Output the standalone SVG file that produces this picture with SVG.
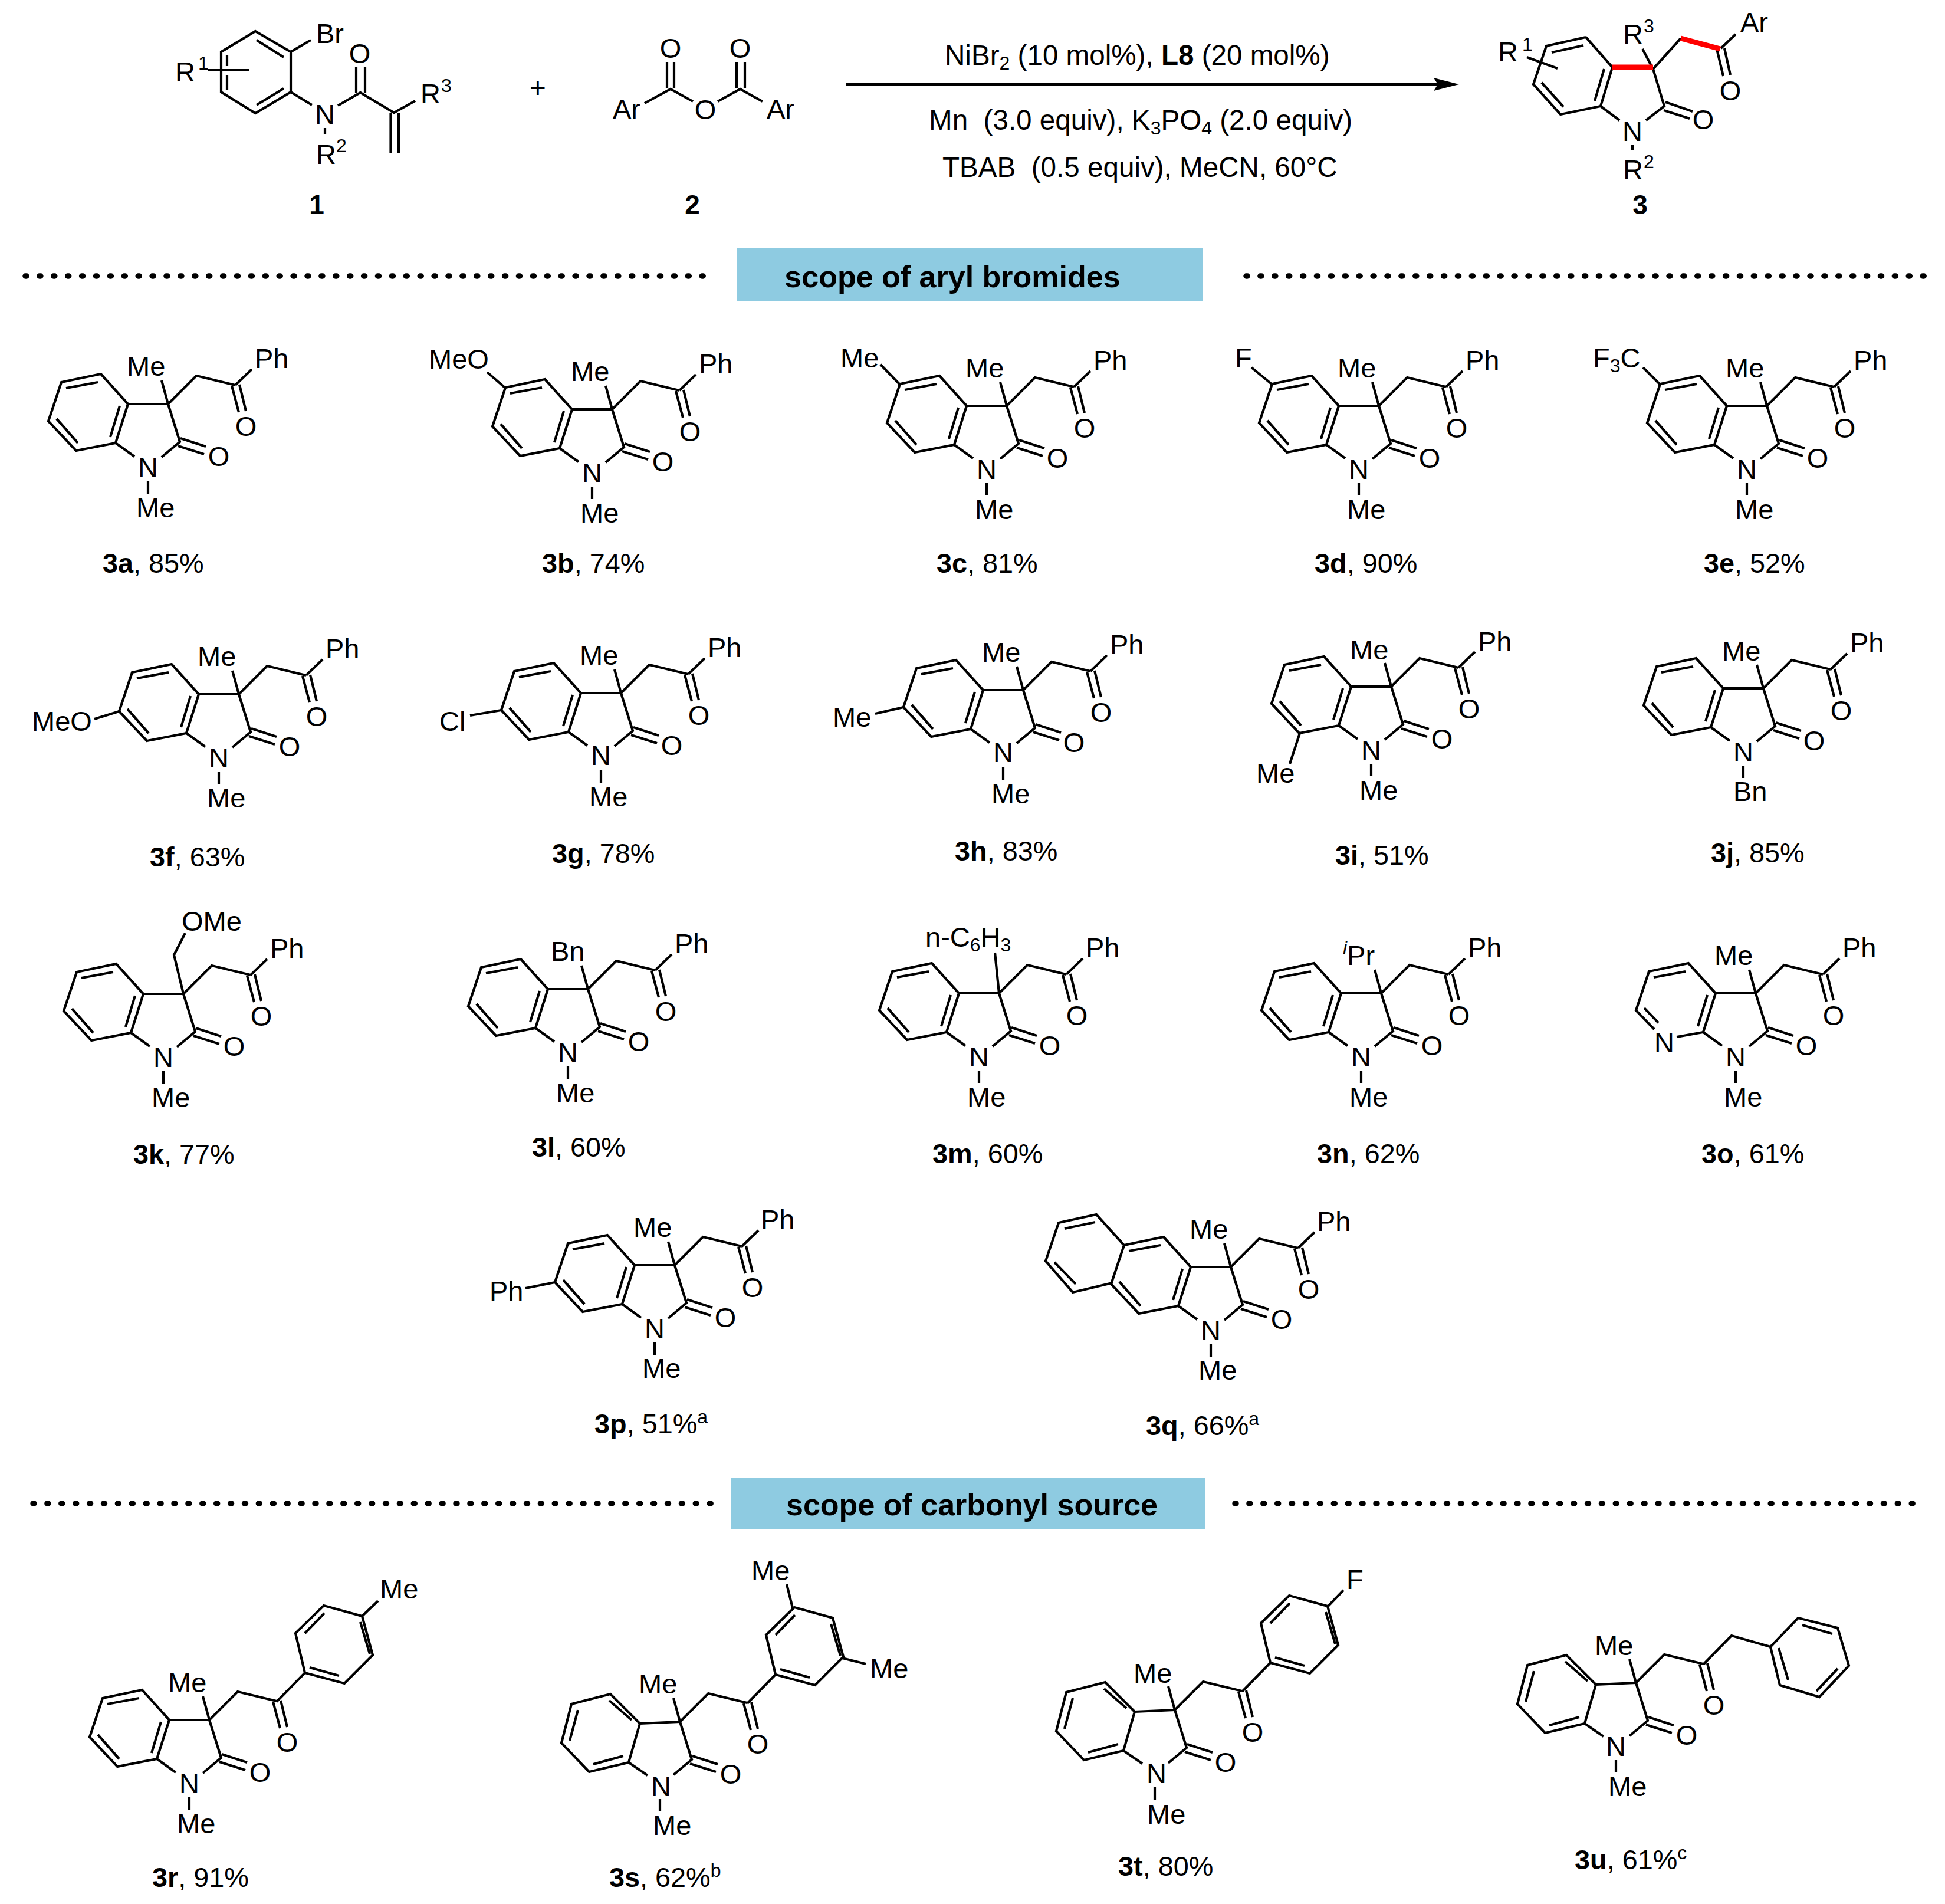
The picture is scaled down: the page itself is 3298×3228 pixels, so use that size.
<svg xmlns="http://www.w3.org/2000/svg" xmlns:xlink="http://www.w3.org/1999/xlink" width="3298" height="3228" viewBox="0 0 3298 3228">
<style>
text{font-family:"Liberation Sans",Arial,sans-serif;fill:#000;white-space:pre}
.a{font-size:47px;transform:translate(-3px,0)}
.m{font-size:47px;text-anchor:middle}
.l{font-size:46.800px}
.c{font-size:46px;text-anchor:middle;font-weight:bold}
.r{font-size:47.600px}
.h{font-size:52px;font-weight:bold;text-anchor:middle}
.bd{font-weight:bold}
.sp{font-size:32px}
.bond{fill:none;stroke:#000;stroke-width:4.2;stroke-linejoin:miter}
.red{fill:none;stroke:#f00;stroke-width:9}
.dots{fill:none;stroke:#000;stroke-width:9.500;stroke-linecap:round;stroke-dasharray:2 21.9}
.band{fill:#8ecbe1}
</style>
<defs>
<path id="benzoA" class="bond" d="M-68 0L-114-51L-181-37L-203 29L-156 79L-89 66L-68 0M-173-27L-119-37M-189 25L-153 66M-82 3L-98 56M-68 0L0 0M-89 66L-57 89"/>
<path id="benzoC" class="bond" d="M-68 3L-118-47L-184-30L-201 36L-154 85L-87 69L-68 3M-82-3L-120-36M-187 32L-173-20M-96 58L-147 72M-68 3L0 0M-87 69L-55 91"/>
<path id="lactam" class="bond" d="M0 0L20 64L-11 90M21 58L64 72M17 71L61 85M-34 131V152M0 0L48-48L114-32M108-31L120 14M121-33L132 12"/>
<path id="stub" class="bond" d="M-11-40L0 0"/>
<path id="toPh" class="bond" d="M114-32L142-59"/>
<path id="aryl" class="bond" d="M114-31L162-80L229-62L277-110L259-176L194-194L146-147L162-80M170-89L220-75M256-166L272-112M162-147L195-181"/>
</defs>

<g id="separators">
<line class="dots" x1="43" y1="468" x2="1198" y2="468"/>
<line class="dots" x1="2113" y1="468" x2="3264" y2="468"/>
<line class="dots" x1="56" y1="2549" x2="1215" y2="2549"/>
<line class="dots" x1="2094" y1="2549" x2="3255" y2="2549"/>
</g>
<g id="header1"><rect class="band" x="1249" y="421" width="791" height="90"/><text class="h" x="1615" y="487">scope of aryl bromides</text></g>
<g id="header2"><rect class="band" x="1239" y="2505" width="805" height="88"/><text class="h" x="1648" y="2569">scope of carbonyl source</text></g>

<g id="reactant1">
<path class="bond" d="M433 53L493 88V156L433 192L375 156V88ZM435 68L481 97M385 93V112M385 127V152M435 178L481 150M493 88L527 68M352 119H422M493 156L529 178M551 217V228M573 179L611 157L668 191L704 171M604 113V157M619 113V157M662.500 191V260M676 191V260"/>
<text class="a" x="539" y="73">Br</text>
<text class="a" x="300" y="138">R</text><text class="sp" x="336" y="118">1</text>
<text class="m" x="551" y="210">N</text>
<text class="a" x="539" y="278">R</text><text class="sp" x="570" y="258">2</text>
<text class="m" x="610" y="107">O</text>
<text class="a" x="716" y="175">R</text><text class="sp" x="748" y="156">3</text>
<text class="c" x="537" y="363">1</text>
</g>
<text id="plus" class="r" x="912" y="165" text-anchor="middle">+</text>
<g id="reactant2">
<path class="bond" d="M1093 175L1137 151L1175 172M1217 172L1255 151L1293 172M1131 105V150M1143 105V150M1249 105V150M1263 105V150"/>
<text class="a" x="1042" y="201">Ar</text>
<text class="m" x="1196" y="202">O</text>
<text class="a" x="1303" y="201">Ar</text>
<text class="m" x="1137" y="98">O</text>
<text class="m" x="1255" y="98">O</text>
<text class="c" x="1174" y="363">2</text>
</g>
<g id="conditions">
<line x1="1434" y1="143" x2="2440" y2="143" stroke="#000" stroke-width="4"/>
<polygon points="2431,132 2474,143 2431,154 2438,143" fill="#000"/>
<text class="r" x="1602" y="110">NiBr<tspan class="sp" dy="8">2</tspan><tspan dy="-8"> (10 mol%), </tspan><tspan class="bd">L8</tspan> (20 mol%)</text>
<text class="r" x="1575" y="220">Mn  (3.0 equiv), K<tspan class="sp" dy="8">3</tspan><tspan dy="-8">PO</tspan><tspan class="sp" dy="8">4</tspan><tspan dy="-8"> (2.0 equiv)</tspan></text>
<text class="r" x="1598" y="300">TBAB  (0.5 equiv), MeCN, 60°C</text>
</g>
<g id="product3">
<path class="bond" d="M2689 63L2622 78L2600 143L2646 194L2714 180L2734 114L2689 63M2631 89L2685 77M2614 140L2651 181M2720 117L2704 171M2589 97L2641 116M2785 83L2803 117L2822 180L2791 204M2714 180L2746 204M2824 173L2870 189M2821 187L2865 201M2768 246V254M2803 117L2850 65M2918 82L2943 58M2911 83L2922 129M2924 82L2934 127"/>
<path class="red" d="M2734 114H2803M2850 65L2917 83"/>
<text class="a" x="2543" y="104">R</text><text class="sp" x="2581" y="86">1</text>
<text class="a" x="2755" y="74">R</text><text class="sp" x="2787" y="55">3</text>
<text class="a" x="2954" y="54">Ar</text>
<text class="m" x="2934" y="170">O</text>
<text class="m" x="2768" y="239">N</text>
<text class="m" x="2888" y="219">O</text>
<text class="a" x="2755" y="304">R</text><text class="sp" x="2787" y="285">2</text>
<text class="c" x="2781" y="363">3</text>
</g>

<g id="c3a"><g transform="translate(285,685)"><use href="#benzoA"/><use href="#lactam"/><use href="#stub"/><use href="#toPh"/><text class="a" x="-67" y="-48">Me</text><text class="a" x="150" y="-61">Ph</text><text class="m" x="132" y="54">O</text><text class="m" x="86" y="105">O</text><text class="m" x="-34" y="124">N</text><text class="a" x="-51" y="192">Me</text></g><text class="l" x="174" y="971"><tspan class="bd">3a</tspan>, 85%</text></g>

<g id="c3b"><g transform="translate(1038,694)"><use href="#benzoA"/><use href="#lactam"/><use href="#stub"/><use href="#toPh"/><path class="bond" d="M-182-37L-212-63"/><text class="a" x="-308" y="-69">MeO</text><text class="a" x="-67" y="-48">Me</text><text class="a" x="150" y="-61">Ph</text><text class="m" x="132" y="54">O</text><text class="m" x="86" y="105">O</text><text class="m" x="-34" y="124">N</text><text class="a" x="-51" y="192">Me</text></g><text class="l" x="919" y="971"><tspan class="bd">3b</tspan>, 74%</text></g>

<g id="c3c"><g transform="translate(1707,688)"><use href="#benzoA"/><use href="#lactam"/><use href="#stub"/><use href="#toPh"/><path class="bond" d="M-182-37L-214-70"/><text class="a" x="-279" y="-65">Me</text><text class="a" x="-67" y="-48">Me</text><text class="a" x="150" y="-61">Ph</text><text class="m" x="132" y="54">O</text><text class="m" x="86" y="105">O</text><text class="m" x="-34" y="124">N</text><text class="a" x="-51" y="192">Me</text></g><text class="l" x="1588" y="971"><tspan class="bd">3c</tspan>, 81%</text></g>

<g id="c3d"><g transform="translate(2338,688)"><use href="#benzoA"/><use href="#lactam"/><use href="#stub"/><use href="#toPh"/><path class="bond" d="M-182-37L-216-65"/><text class="a" x="-241" y="-65">F</text><text class="a" x="-67" y="-48">Me</text><text class="a" x="150" y="-61">Ph</text><text class="m" x="132" y="54">O</text><text class="m" x="86" y="105">O</text><text class="m" x="-34" y="124">N</text><text class="a" x="-51" y="192">Me</text></g><text class="l" x="2229" y="971"><tspan class="bd">3d</tspan>, 90%</text></g>

<g id="c3e"><g transform="translate(2996,688)"><use href="#benzoA"/><use href="#lactam"/><use href="#stub"/><use href="#toPh"/><path class="bond" d="M-182-37L-210-65"/><text class="a" x="-292" y="-65">F<tspan class="sp" dy="8">3</tspan><tspan dy="-8">C</tspan></text><text class="a" x="-67" y="-48">Me</text><text class="a" x="150" y="-61">Ph</text><text class="m" x="132" y="54">O</text><text class="m" x="86" y="105">O</text><text class="m" x="-34" y="124">N</text><text class="a" x="-51" y="192">Me</text></g><text class="l" x="2889" y="971"><tspan class="bd">3e</tspan>, 52%</text></g>

<g id="c3f"><g transform="translate(405,1177)"><use href="#benzoA"/><use href="#lactam"/><use href="#stub"/><use href="#toPh"/><path class="bond" d="M-203 29L-245 42"/><text class="a" x="-348" y="62">MeO</text><text class="a" x="-67" y="-48">Me</text><text class="a" x="150" y="-61">Ph</text><text class="m" x="132" y="54">O</text><text class="m" x="86" y="105">O</text><text class="m" x="-34" y="124">N</text><text class="a" x="-51" y="192">Me</text></g><text class="l" x="254" y="1469"><tspan class="bd">3f</tspan>, 63%</text></g>

<g id="c3g"><g transform="translate(1053,1175)"><use href="#benzoA"/><use href="#lactam"/><use href="#stub"/><use href="#toPh"/><path class="bond" d="M-203 29L-256 38"/><text class="a" x="-305" y="64">Cl</text><text class="a" x="-67" y="-48">Me</text><text class="a" x="150" y="-61">Ph</text><text class="m" x="132" y="54">O</text><text class="m" x="86" y="105">O</text><text class="m" x="-34" y="122">N</text><text class="a" x="-51" y="192">Me</text></g><text class="l" x="936" y="1463"><tspan class="bd">3g</tspan>, 78%</text></g>

<g id="c3h"><g transform="translate(1735,1170)"><use href="#benzoA"/><use href="#lactam"/><use href="#stub"/><use href="#toPh"/><path class="bond" d="M-203 29L-251 40"/><text class="a" x="-320" y="62">Me</text><text class="a" x="-67" y="-48">Me</text><text class="a" x="150" y="-61">Ph</text><text class="m" x="132" y="54">O</text><text class="m" x="86" y="105">O</text><text class="m" x="-34" y="122">N</text><text class="a" x="-51" y="192">Me</text></g><text class="l" x="1619" y="1459"><tspan class="bd">3h</tspan>, 83%</text></g>

<g id="c3i"><g transform="translate(2359,1164)"><use href="#benzoA"/><use href="#lactam"/><use href="#stub"/><use href="#toPh"/><path class="bond" d="M-155 79L-172 131"/><text class="a" x="-226" y="163">Me</text><text class="a" x="-67" y="-46">Me</text><text class="a" x="150" y="-60">Ph</text><text class="m" x="132" y="54">O</text><text class="m" x="86" y="105">O</text><text class="m" x="-34" y="124">N</text><text class="a" x="-51" y="192">Me</text></g><text class="l" x="2264" y="1466"><tspan class="bd">3i</tspan>, 51%</text></g>

<g id="c3j"><g transform="translate(2990,1167)"><use href="#benzoA"/><use href="#lactam"/><use href="#stub"/><use href="#toPh"/><text class="a" x="-67" y="-47">Me</text><text class="a" x="150" y="-61">Ph</text><text class="m" x="132" y="54">O</text><text class="m" x="86" y="105">O</text><text class="m" x="-34" y="124">N</text><text class="a" x="-48" y="191">Bn</text></g><text class="l" x="2901" y="1462"><tspan class="bd">3j</tspan>, 85%</text></g>

<g id="c3k"><g transform="translate(311,1685)"><use href="#benzoA"/><use href="#lactam"/><use href="#toPh"/><path class="bond" d="M0 0L-16-66L3-103"/><text class="a" x="0" y="-107">OMe</text><text class="a" x="150" y="-61">Ph</text><text class="m" x="132" y="54">O</text><text class="m" x="86" y="105">O</text><text class="m" x="-34" y="124">N</text><text class="a" x="-51" y="192">Me</text></g><text class="l" x="226" y="1973"><tspan class="bd">3k</tspan>, 77%</text></g>

<g id="c3l"><g transform="translate(997,1677)"><use href="#benzoA"/><use href="#lactam"/><use href="#stub"/><use href="#toPh"/><text class="a" x="-60" y="-48">Bn</text><text class="a" x="150" y="-61">Ph</text><text class="m" x="132" y="54">O</text><text class="m" x="86" y="105">O</text><text class="m" x="-34" y="124">N</text><text class="a" x="-51" y="192">Me</text></g><text class="l" x="902" y="1961"><tspan class="bd">3l</tspan>, 60%</text></g>

<g id="c3m"><g transform="translate(1694,1684)"><use href="#benzoA"/><use href="#lactam"/><use href="#toPh"/><path class="bond" d="M-7-69L0 0"/><text class="a" x="-122" y="-79">n-C<tspan class="sp" dy="8">6</tspan><tspan dy="-8">H</tspan><tspan class="sp" dy="8">3</tspan></text><text class="a" x="150" y="-61">Ph</text><text class="m" x="132" y="54">O</text><text class="m" x="86" y="105">O</text><text class="m" x="-34" y="124">N</text><text class="a" x="-51" y="192">Me</text></g><text class="l" x="1581" y="1972"><tspan class="bd">3m</tspan>, 60%</text></g>

<g id="c3n"><g transform="translate(2342,1684)"><use href="#benzoA"/><use href="#lactam"/><use href="#stub"/><use href="#toPh"/><text class="a" x="-62" y="-48"><tspan class="sp" dy="-18" font-style="italic">i</tspan><tspan dy="18">Pr</tspan></text><text class="a" x="150" y="-61">Ph</text><text class="m" x="132" y="54">O</text><text class="m" x="86" y="105">O</text><text class="m" x="-34" y="124">N</text><text class="a" x="-51" y="192">Me</text></g><text class="l" x="2233" y="1972"><tspan class="bd">3n</tspan>, 62%</text></g>

<g id="c3o"><g transform="translate(2977,1684)"><path class="bond" d="M-68 0L-114-51L-181-37L-203 29L-172 61M-134 74L-89 66L-68 0M-173-27L-119-37M-189 25L-165 50M-82 3L-98 56M-68 0L0 0M-89 66L-57 89"/><use href="#lactam"/><use href="#stub"/><use href="#toPh"/><text class="m" x="-155" y="100">N</text><text class="a" x="-67" y="-48">Me</text><text class="a" x="150" y="-61">Ph</text><text class="m" x="132" y="54">O</text><text class="m" x="86" y="105">O</text><text class="m" x="-34" y="124">N</text><text class="a" x="-51" y="192">Me</text></g><text class="l" x="2885" y="1972"><tspan class="bd">3o</tspan>, 61%</text></g>

<g id="c3p"><g transform="translate(1144,2145)"><use href="#benzoA"/><use href="#lactam"/><use href="#stub"/><use href="#toPh"/><path class="bond" d="M-203 29L-253 39"/><text class="a" x="-311" y="60">Ph</text><text class="a" x="-67" y="-48">Me</text><text class="a" x="149" y="-61">Ph</text><text class="m" x="132" y="54">O</text><text class="m" x="86" y="105">O</text><text class="m" x="-34" y="124">N</text><text class="a" x="-52" y="191">Me</text></g><text class="l" x="1008" y="2430"><tspan class="bd">3p</tspan>, 51%<tspan class="sp" dy="-17">a</tspan></text></g>

<g id="c3q"><g transform="translate(2087,2148)"><use href="#benzoA"/><use href="#lactam"/><use href="#stub"/><use href="#toPh"/><path class="bond" d="M-182-38L-228-89L-292-75L-314-10L-268 43L-201 27M-282-65L-230-76M-299-8L-263 29"/><text class="a" x="-67" y="-48">Me</text><text class="a" x="149" y="-61">Ph</text><text class="m" x="132" y="54">O</text><text class="m" x="86" y="105">O</text><text class="m" x="-34" y="124">N</text><text class="a" x="-52" y="191">Me</text></g><text class="l" x="1943" y="2433"><tspan class="bd">3q</tspan>, 66%<tspan class="sp" dy="-17">a</tspan></text></g>

<g id="c3r"><g transform="translate(355,2916)"><use href="#benzoA"/><use href="#lactam"/><use href="#stub"/><use href="#aryl"/><path class="bond" d="M259-176L286-202"/><text class="a" x="292" y="-206">Me</text><text class="a" x="-67" y="-47">Me</text><text class="m" x="132" y="54">O</text><text class="m" x="86" y="105">O</text><text class="m" x="-34" y="124">N</text><text class="a" x="-52" y="192">Me</text></g><text class="l" x="258" y="3199"><tspan class="bd">3r</tspan>, 91%</text></g>

<g id="c3s"><g transform="translate(1153,2919)"><use href="#benzoC"/><use href="#lactam"/><use href="#stub"/><use href="#aryl"/><path class="bond" d="M191-193L181-233M275-108L315-98"/><text class="a" x="124" y="-240">Me</text><text class="a" x="325" y="-74">Me</text><text class="a" x="-67" y="-48">Me</text><text class="m" x="132" y="54">O</text><text class="m" x="86" y="105">O</text><text class="m" x="-32" y="126">N</text><text class="a" x="-43" y="192">Me</text></g><text class="l" x="1033" y="3199"><tspan class="bd">3s</tspan>, 62%<tspan class="sp" dy="-17">b</tspan></text></g>

<g id="c3t"><g transform="translate(1992,2899)"><use href="#benzoC"/><use href="#lactam"/><use href="#stub"/><use href="#aryl"/><path class="bond" d="M258-174L286-203"/><text class="a" x="294" y="-205">F</text><text class="a" x="-67" y="-46">Me</text><text class="m" x="132" y="54">O</text><text class="m" x="86" y="105">O</text><text class="m" x="-31" y="124">N</text><text class="a" x="-44" y="193">Me</text></g><text class="l" x="1896" y="3180"><tspan class="bd">3t</tspan>, 80%</text></g>

<g id="c3u"><g transform="translate(2774,2853)"><use href="#benzoC"/><use href="#lactam"/><use href="#stub"/><path class="bond" d="M114-31L162-80L228-61L244 4L311 24L361-29L342-93L275-110L228-61M242-59L258-5M306 14L342-24M282-98L333-83"/><text class="a" x="-67" y="-47">Me</text><text class="m" x="132" y="54">O</text><text class="m" x="86" y="105">O</text><text class="m" x="-34" y="124">N</text><text class="a" x="-44" y="192">Me</text></g><text class="l" x="2670" y="3169"><tspan class="bd">3u</tspan>, 61%<tspan class="sp" dy="-17">c</tspan></text></g>
</svg>
